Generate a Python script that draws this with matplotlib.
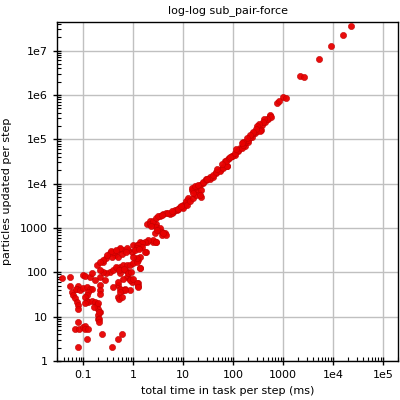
import numpy as np
import matplotlib
matplotlib.use("Agg")
import matplotlib.pyplot as plt

# total time in task per step (ms) vs particles updated per step
# noisy small tasks (lower left)
small_t = [0.038, 0.055, 0.1, 0.107, 0.055, 0.079, 0.074, 0.06, 0.063, 0.068, 0.074,
           0.079, 0.077, 0.07, 0.086, 0.1, 0.117, 0.136, 0.147, 0.126, 0.117, 0.107,
           0.117, 0.126, 0.11, 0.147, 0.17, 0.185, 0.2, 0.215, 0.2, 0.2, 0.079, 0.068,
           0.083, 0.097, 0.107, 0.11, 0.126, 0.117, 0.079, 0.38, 0.24, 0.5, 0.59, 0.16,
           0.2, 0.21, 0.21, 0.21, 0.185, 0.25, 0.215, 0.136, 0.15, 0.17, 0.215, 0.5,
           0.59, 0.68, 0.49, 0.74, 0.79, 0.86, 0.93, 1.26, 1.26, 1.36, 1.26, 0.86, 0.63,
           0.52, 0.54]
small_n = [76, 79, 86, 81, 49, 49, 43, 36, 30, 26, 21,
           18, 15, 41, 40, 45, 47, 43, 41, 36, 30, 28,
           23, 21, 20, 23, 21, 18, 15, 12.7, 10.7, 9, 7.6, 5.2,
           5.2, 5.8, 6.3, 5.4, 5.2, 3.2, 2.1, 2.1, 4.1, 3.2, 4.1, 16.5,
           20, 12.7, 9, 7.6, 145, 172, 79, 79, 94, 66, 51, 51,
           40, 43, 28, 79, 102, 72, 60, 56, 48, 123, 188, 39, 39,
           25, 41]

# middle clusters (0.2 - 3 ms)
mid_t = [0.34, 0.4, 0.47, 0.54, 0.63, 0.43, 0.5, 0.29, 0.25, 0.215, 0.37, 0.93, 0.79,
         0.34, 0.4, 0.47, 0.54, 0.63, 0.74, 0.86, 1.0, 1.17, 0.68, 0.79, 0.29, 0.25,
         0.215, 0.54, 0.63, 0.86, 1.0, 1.17, 1.26, 1.36, 0.5, 0.4, 0.68, 0.54, 0.59,
         0.27, 0.215, 0.215, 0.4, 0.54, 0.76, 1.0, 1.36, 1.85, 1.8, 1.17, 1.36, 2.5,
         2.9, 3.7, 3.2, 2.9, 0.36, 0.45, 0.58, 0.7, 0.3, 0.44, 0.52, 0.66, 0.9]
mid_n = [270, 290, 305, 330, 316, 245, 225, 205, 187, 172, 225, 290, 316,
         102, 112, 123, 132, 145, 145, 145, 158, 172, 112, 94, 94, 102,
         112, 94, 72, 66, 72, 56, 47, 123, 60, 47, 40, 36, 28,
         66, 40, 33, 290, 345, 345, 410, 490, 490, 290, 410, 375, 490,
         490, 690, 900, 1260, 300, 320, 260, 280, 240, 130, 110, 120, 100]

# loop + main band from 1 ms up
band_t = [2.9, 3.4, 3.7, 4.3, 4.6, 2.7, 2.5, 2.9, 2.0, 1.7, 1.47, 1.26, 1.17, 1.08,
          1.7, 1.36, 1.17, 1.0, 1.9, 2.15, 2.15, 2.5, 2.9, 3.4, 4.0, 4.6, 5.4, 6.3,
          7.4, 8.6, 10, 11.3, 12.6, 5.9, 6.8, 7.9, 9.3, 10.8, 11.3, 12.6, 14.7, 17,
          20, 23, 21.5, 25, 29, 34, 40, 46, 54, 63, 74, 68, 79, 93, 108, 126, 135,
          158, 170, 200, 235, 270, 10, 11.7, 13.6, 15.8, 17.9, 14.7, 17, 20, 23, 21.5,
          25, 29, 34, 40, 46, 54, 63, 74, 71, 83, 93, 108, 126, 148, 158, 170, 200,
          215, 250, 295, 340, 370, 430, 500, 540, 3.1, 3.8, 5.0, 6.0, 8.0, 2.3, 1.5,
          1.3, 3.0, 4.0, 9.0, 16, 30, 48, 60, 88, 115]
band_n = [1070, 980, 820, 760, 690, 760, 530, 490, 530, 490, 450, 410, 350, 316,
          290, 225, 205, 225, 1260, 1400, 1260, 1450, 1650, 1860, 2050, 2140, 2050, 2330,
          2530, 3000, 3300, 3700, 4300, 2140, 2530, 2640, 2930, 3300, 4150, 4700, 7200, 7900,
          6600, 5100, 9300, 10500, 12000, 12600, 14400, 17300, 20400, 24000, 25000, 32000, 35000, 41000, 45000, 53000, 63000,
          75000, 69000, 89000, 115000, 138000, 2760, 3300, 4150, 4700, 5500, 7900, 8900, 9300, 7200, 5500,
          11100, 12600, 14000, 15800, 18600, 19600, 22000, 25000, 32000, 37000, 42000, 49000, 56000, 63000, 75000, 85000, 98000,
          113000, 138000, 150000, 170000, 210000, 250000, 290000, 340000, 1900, 1950, 2200, 2400, 2700, 1100, 380,
          330, 880, 750, 3100, 6000, 12500, 21000, 28000, 40000, 60000]

# big tasks (upper tail)
big_t = [540, 560, 470, 410, 400, 330, 300, 365, 340, 280, 250, 215, 185, 158, 148,
         1000, 1130, 760, 810, 2150, 2600, 5200, 9100, 16000, 23000]
big_n = [3.6e5, 3.2e5, 2.9e5, 2.8e5, 2.4e5, 2.2e5, 2.0e5, 1.6e5, 1.5e5, 1.7e5, 1.45e5,
         1.26e5, 1.07e5, 8.9e4, 8.1e4, 8.9e5, 8.5e5, 6.7e5, 7.2e5, 2.7e6, 2.6e6,
         6.5e6, 1.3e7, 2.3e7, 3.5e7]

x_ticks = [0.1, 1, 10, 100, 1000, 1e4, 1e5]
x_labels = ["0.1", "1", "10", "100", "1000", "1e4", "1e5"]
y_ticks = [1, 10, 100, 1000, 1e4, 1e5, 1e6, 1e7]
y_labels = ["1", "10", "100", "1000", "1e4", "1e5", "1e6", "1e7"]

t = np.array(small_t + mid_t + band_t + big_t)
n = np.array(small_n + mid_n + band_n + big_n)

plt.rcParams["font.family"] = ["DejaVu Sans"]
plt.rcParams["font.size"] = 8

fig = plt.figure(figsize=(4, 4), dpi=100)
ax = fig.add_axes([0.1425, 0.0975, 0.8525, 0.8485])
ax.set_xscale("log")
ax.set_yscale("log")
ax.scatter(t, n, s=20, c="#e80000", edgecolors="#c00000", linewidths=0.4,
           alpha=0.95, zorder=3)

ax.set_xlim(0.0296, 2e5)
ax.set_ylim(1, 4.5e7)
ax.set_xticks(x_ticks)
ax.set_xticklabels(x_labels)
ax.set_yticks(y_ticks)
ax.set_yticklabels(y_labels)
ax.grid(True, which="major", color="#c0c0c0", linewidth=1.0, zorder=0)
ax.tick_params(which="major", direction="inout", length=6, width=1, top=False, right=False, labelsize=8, colors="black")
ax.tick_params(which="minor", direction="in", length=3, width=0.8, top=False, right=False)
for sp in ax.spines.values():
    sp.set_linewidth(1.0)

ax.set_title("log-log sub_pair-force", fontsize=8, pad=6)
ax.set_xlabel("total time in task per step (ms)", fontsize=8, labelpad=4)
ax.set_ylabel("particles updated per step", fontsize=8, labelpad=6)

fig.savefig("out.png", dpi=100)
